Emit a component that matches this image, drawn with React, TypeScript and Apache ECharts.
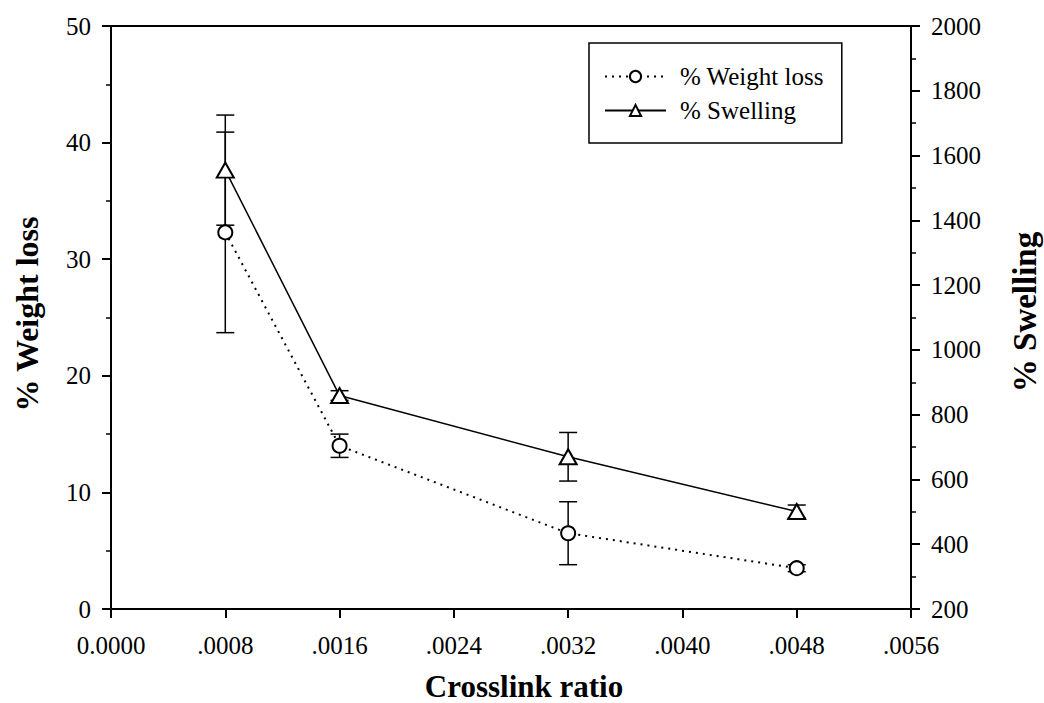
import React, { useEffect, useRef } from "react";
import * as echarts from "echarts";

const crosslink = [0.0008, 0.0016, 0.0032, 0.0048];
const weightLoss = [32.3, 14.0, 6.5, 3.5];
const weightLossErr = [8.6, 1.0, 2.7, 0.3];
const swelling = [1555, 859, 670, 501];
const swellingErr = [170, 15, 75, 20];
const xTitle = "Crosslink ratio";
const yLeftTitle = "% Weight loss";
const yRightTitle = "% Swelling";

const FONT = "Liberation Serif";

function errData(vals: number[], errs: number[]) {
  return crosslink.map((x, i) => [x, vals[i] - errs[i], vals[i] + errs[i]]);
}

function errRender(params: any, api: any) {
  const x = api.value(0);
  const lo = api.value(1);
  const hi = api.value(2);
  const p1 = api.coord([x, hi]);
  const p2 = api.coord([x, lo]);
  const w = 9;
  const st = { stroke: "#000", lineWidth: 1.5 };
  return {
    type: "group",
    children: [
      { type: "line", shape: { x1: p1[0], y1: p1[1], x2: p2[0], y2: p2[1] }, style: st },
      { type: "line", shape: { x1: p1[0] - w, y1: p1[1], x2: p1[0] + w, y2: p1[1] }, style: st },
      { type: "line", shape: { x1: p2[0] - w, y1: p2[1], x2: p2[0] + w, y2: p2[1] }, style: st },
    ],
  };
}

export default function App() {
  const ref = useRef<HTMLDivElement>(null);
  useEffect(() => {
    document.body.style.margin = "0";
    const chart = echarts.init(ref.current!, null, { renderer: "svg" });
    const axisCommon = {
      axisLine: { show: true, lineStyle: { color: "#000", width: 2 } },
      axisTick: { show: true, length: 9, lineStyle: { color: "#000", width: 2 } },
      splitLine: { show: false },
      axisLabel: { color: "#000", fontFamily: FONT, fontSize: 25 },
    };
    chart.setOption({
      animation: false,
      backgroundColor: "#fff",
      textStyle: { fontFamily: FONT },
      grid: {
        left: 111,
        right: 133,
        top: 26,
        bottom: 94,
        show: true,
        borderColor: "#000",
        borderWidth: 2,
      },
      legend: {
        left: 589,
        top: 43,
        orient: "vertical",
        padding: [21, 18, 20, 15],
        itemGap: 9,
        itemWidth: 61,
        itemHeight: 14,
        borderColor: "#000",
        borderWidth: 1.5,
        textStyle: { color: "#000", fontFamily: FONT, fontSize: 25, padding: [0, 0, 0, 9] },
        data: [yLeftTitle, yRightTitle],
      },
      xAxis: {
        type: "value",
        min: 0,
        max: 0.0056,
        interval: 0.0008,
        ...axisCommon,
        axisLabel: {
          ...axisCommon.axisLabel,
          margin: 24,
          formatter: (v: number) => {
            const r = Math.round(v * 10000) / 10000;
            if (r === 0) return "0.0000";
            return r.toFixed(4).replace(/^0/, "");
          },
        },
      },
      yAxis: [
        {
          type: "value",
          min: 0,
          max: 50,
          interval: 10,
          ...axisCommon,
          minorTick: { show: true, splitNumber: 2, length: 5, lineStyle: { color: "#000", width: 1.5 } },
          axisLabel: { ...axisCommon.axisLabel, margin: 20, formatter: (v: number) => String(v) },
        },
        {
          type: "value",
          min: 200,
          max: 2000,
          interval: 200,
          position: "right",
          ...axisCommon,
          minorTick: { show: true, splitNumber: 2, length: 5, lineStyle: { color: "#000", width: 1.5 } },
          axisLabel: { ...axisCommon.axisLabel, margin: 20, formatter: (v: number) => String(v) },
        },
      ],
      graphic: [
        {
          type: "text",
          x: 524,
          y: 686,
          style: {
            text: xTitle,
            font: `bold 31px ${FONT}`,
            fill: "#000",
            textAlign: "center",
            textVerticalAlign: "middle",
          },
        },
        {
          type: "text",
          x: 27,
          y: 314,
          rotation: Math.PI / 2,
          style: {
            text: yLeftTitle,
            font: `bold 32px ${FONT}`,
            fill: "#000",
            textAlign: "center",
            textVerticalAlign: "middle",
          },
        },
        {
          type: "text",
          x: 1025,
          y: 312,
          rotation: Math.PI / 2,
          style: {
            text: yRightTitle,
            font: `bold 33px ${FONT}`,
            fill: "#000",
            textAlign: "center",
            textVerticalAlign: "middle",
          },
        },
      ],
      series: [
        {
          type: "custom",
          name: "wlErr",
          yAxisIndex: 0,
          z: 1,
          renderItem: errRender,
          encode: { x: 0, y: [1, 2] },
          data: errData(weightLoss, weightLossErr),
          silent: true,
        },
        {
          type: "custom",
          name: "swErr",
          yAxisIndex: 1,
          z: 1,
          renderItem: errRender,
          encode: { x: 0, y: [1, 2] },
          data: errData(swelling, swellingErr),
          silent: true,
        },
        {
          type: "line",
          name: yLeftTitle,
          yAxisIndex: 0,
          z: 3,
          data: crosslink.map((x, i) => [x, weightLoss[i]]),
          symbol: "emptyCircle",
          symbolSize: 14,
          lineStyle: { color: "#000", width: 2, type: [2, 5] },
          itemStyle: { color: "#000", borderColor: "#000", borderWidth: 1.5 },
        },
        {
          type: "line",
          name: yRightTitle,
          yAxisIndex: 1,
          z: 3,
          data: crosslink.map((x, i) => [x, swelling[i]]),
          symbol: "emptyTriangle",
          symbolSize: [17, 15],
          lineStyle: { color: "#000", width: 1.5, type: "solid" },
          itemStyle: { color: "#000", borderColor: "#000", borderWidth: 1.5 },
        },
      ],
    });
    return () => chart.dispose();
  }, []);
  return <div ref={ref} style={{ position: "absolute", left: 0, top: 0, width: 1044, height: 703 }} />;
}
